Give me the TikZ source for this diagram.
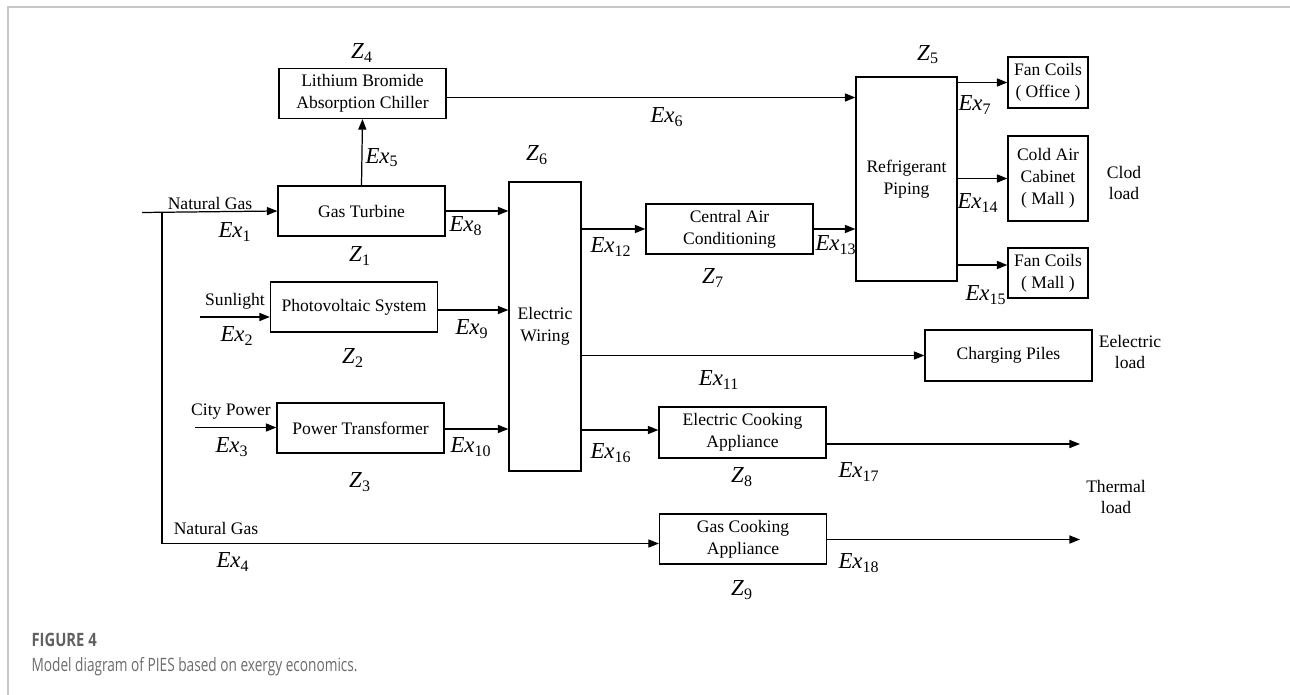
\documentclass[tikz,border=0pt]{standalone}
\usepackage{fontspec}
\setmainfont{Liberation Serif}
\newfontfamily\capfont{Open Sans}
\usetikzlibrary{arrows.meta}
\newcommand{\Ex}[1]{\textit{Ex}\textsubscript{#1}}
\newcommand{\Zc}[1]{\textit{Z}\textsubscript{#1}}
\begin{document}
\begin{tikzpicture}[x=0.02cm,y=-0.02cm,line width=0.7pt,
    >={Triangle[length=6pt,width=4.6pt]},
    box/.style={draw,align=center,minimum width=3.34cm,minimum height=1cm,inner sep=1pt,font=\fontsize{10}{12.5}\selectfont},
    lbl/.style={font=\fontsize{13}{15}\selectfont,inner sep=0pt},
    txt/.style={align=center,font=\fontsize{10}{12.5}\selectfont,inner sep=0pt}]
\useasboundingbox (0,0) rectangle (1290,695);
\draw[line width=0.8pt,color=black!22] (8,695) -- (8,7) -- (1290,7);
% blocks
\node[box] (libr) at (362.5,93.5) {Lithium Bromide\\Absorption Chiller};
\node[box] (gt) at (361.5,211) {Gas Turbine};
\node[box] (pv) at (354,307) {Photovoltaic System};
\node[box] (pt) at (360.5,428) {Power Transformer};
\node[box,minimum width=1.44cm,minimum height=5.78cm] (wire) at (545,326.5) {Electric\\Wiring};
\node[box] (cac) at (729.5,229) {Central Air\\Conditioning};
\node[box,minimum width=2.02cm,minimum height=4.08cm] (pipe) at (906.5,179) {Refrigerant\\Piping};
\node[box,minimum width=1.6cm,minimum height=1.02cm] (fco) at (1048,82.5) {Fan Coils\\( Office )};
\node[box,minimum width=1.6cm,minimum height=1.7cm] (cab) at (1048,178.5) {Cold Air\\Cabinet\\( Mall )};
\node[box,minimum width=1.6cm] (fcm) at (1048,273) {Fan Coils\\( Mall )};
\node[box,minimum height=1.02cm] (chg) at (1008.5,355.5) {Charging Piles};
\node[box,minimum height=1.02cm] (ecook) at (742.5,432.5) {Electric Cooking\\Appliance};
\node[box] (gcook) at (743,539) {Gas Cooking\\Appliance};
% free ends
\coordinate (ng) at (142,212.5);
\coordinate (split) at (162,212.5);
\coordinate (corner) at (162,543.5);
\coordinate (sun) at (200,317);
\coordinate (city) at (195,427.5);
\coordinate (heat1) at (1080,444);
\coordinate (heat2) at (1080,539.5);
% flows
\draw[->] (ng) -- (gt.west);
\draw (split) -- (corner);
\draw[->] (corner) -- (corner -| gcook.west);
\draw[->] (gt.north) -- (libr.south);
\draw[->] (libr.east |- 0,97.5) -- (pipe.west |- 0,97.5);
\draw[->] (gt.east) -- (gt.east -| wire.west);
\draw[->] (sun) -- (sun -| pv.west);
\draw[->] (pv.east |- 0,310) -- (wire.west |- 0,310);
\draw[->] (city) -- (city -| pt.west);
\draw[->] (pt.east |- 0,429) -- (wire.west |- 0,429);
\draw[->] (wire.east |- cac.west) -- (cac.west);
\draw[->] (cac.east) -- (cac.east -| pipe.west);
\draw[->] (pipe.east |- fco.west) -- (fco.west);
\draw[->] (pipe.east |- cab.west) -- (cab.west);
\draw[->] (pipe.east |- 0,265) -- (fcm.west |- 0,265);
\draw[->] (wire.east |- chg.west) -- (chg.west);
\draw[->] (wire.east |- 0,430) -- (ecook.west |- 0,430);
\draw[->] (ecook.east |- heat1) -- (heat1);
\draw[->] (gcook.east |- heat2) -- (heat2);
% labels
\node[lbl] at (362,53) {\Zc{4}};
\node[lbl] at (382,158) {\Ex{5}};
\node[txt] at (210,203) {Natural Gas};
\node[lbl] at (235,232) {\Ex{1}};
\node[lbl] at (360,256) {\Zc{1}};
\node[lbl] at (466,226) {\Ex{8}};
\node[txt] at (235,301) {Sunlight};
\node[lbl] at (237,336) {\Ex{2}};
\node[lbl] at (472,329) {\Ex{9}};
\node[lbl] at (353,358) {\Zc{2}};
\node[txt] at (231,412) {City Power};
\node[lbl] at (232,447) {\Ex{3}};
\node[lbl] at (471,447) {\Ex{10}};
\node[lbl] at (360,482) {\Zc{3}};
\node[txt] at (216,528) {Natural Gas};
\node[lbl] at (233,562) {\Ex{4}};
\node[lbl] at (667,117) {\Ex{6}};
\node[lbl] at (537,155) {\Zc{6}};
\node[lbl] at (611,247) {\Ex{12}};
\node[lbl] at (713,278) {\Zc{7}};
\node[lbl] at (836,245) {\Ex{13}};
\node[lbl] at (928,55) {\Zc{5}};
\node[lbl] at (975,105) {\Ex{7}};
\node[lbl] at (978,203) {\Ex{14}};
\node[lbl] at (986,295) {\Ex{15}};
\node[txt] at (1124,183) {Clod\\load};
\node[lbl] at (719,380) {\Ex{11}};
\node[txt] at (1130,352) {Eelectric\\load};
\node[lbl] at (611,453) {\Ex{16}};
\node[lbl] at (859,472) {\Ex{17}};
\node[lbl] at (742,477) {\Zc{8}};
\node[lbl] at (859,563) {\Ex{18}};
\node[lbl] at (742,590) {\Zc{9}};
\node[txt] at (1116,497) {Thermal\\load};
% caption
\node[anchor=west,inner sep=0pt,font=\capfont\bfseries\fontsize{10.5}{12}\selectfont,color=black!62] (fig) at (31,640) {\scalebox{0.8}[1]{FIGURE 4}};
\node[anchor=west,inner sep=0pt,font=\capfont\fontsize{10.5}{12}\selectfont,color=black!58] (cap) at (31,667) {\scalebox{0.74}[1]{Model diagram of PIES based on exergy economics.}};
\end{tikzpicture}
\end{document}
